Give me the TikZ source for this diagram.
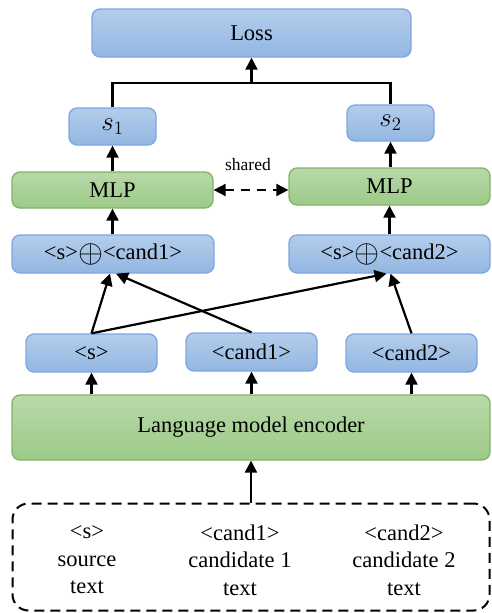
\documentclass[tikz,border=0pt]{standalone}
\usepackage{fontspec}
\usepackage{graphicx}
\setmainfont{Liberation Serif}
\usetikzlibrary{arrows.meta}
\definecolor{btop}{HTML}{B3CDEB}
\definecolor{bbot}{HTML}{93B7E2}
\definecolor{bline}{HTML}{7EA6E0}
\definecolor{gtop}{HTML}{B8D9A9}
\definecolor{gbot}{HTML}{9CCA87}
\definecolor{gline}{HTML}{82B366}
\newcommand{\bigop}{\raisebox{-3pt}{\scalebox{1.55}{$\oplus$}}}
\newcommand{\scoreof}[1]{\scalebox{1.3}{$s_{#1}$}}
\tikzset{
  bluebox/.style={rectangle, rounded corners=8pt, top color=btop, bottom color=bbot, draw=bline, line width=1.3pt, inner sep=0pt, font=\fontsize{22.5}{26}\selectfont},
  greenbox/.style={rectangle, rounded corners=8pt, top color=gtop, bottom color=gbot, draw=gline, line width=1.3pt, inner sep=0pt, font=\fontsize{22.5}{26}\selectfont},
  conn/.style={line width=2.2pt, -{Triangle[length=12pt,width=12pt]}},
  plain/.style={line width=2.2pt},
  bottext/.style={align=center, font=\fontsize{22.5}{27.5}\selectfont, inner sep=0pt}
}
\begin{document}
\begin{tikzpicture}[x=1pt,y=-1pt]
\useasboundingbox (0,0) rectangle (491,613);
% boxes
\node[bluebox, minimum width=319pt, minimum height=48pt] (loss) at (251.5,33) {Loss};
\node[bluebox, minimum width=87pt, minimum height=37pt] (s1) at (112.5,126.5) {\scoreof{1}};
\node[bluebox, minimum width=87pt, minimum height=36pt] (s2) at (390.5,123) {\scoreof{2}};
\node[greenbox, minimum width=201pt, minimum height=36pt] (mlp1) at (112.5,190) {MLP};
\node[greenbox, minimum width=201pt, minimum height=37pt] (mlp2) at (389.5,186.5) {MLP};
\node[bluebox, minimum width=202pt, minimum height=38pt] (c1) at (113,254) {<s>\bigop<cand1>};
\node[bluebox, minimum width=201pt, minimum height=38pt] (c2) at (389.5,254) {<s>\bigop<cand2>};
\node[bluebox, minimum width=131pt, minimum height=38pt] (es) at (91.5,353) {<s>};
\node[bluebox, minimum width=131pt, minimum height=38pt] (ec1) at (251.5,352) {<cand1>};
\node[bluebox, minimum width=131pt, minimum height=38pt] (ec2) at (411.5,353) {<cand2>};
\node[greenbox, minimum width=478pt, minimum height=65pt] (enc) at (251,427.5) {Language model encoder};
\node[rectangle, rounded corners=16pt, draw, line width=2pt, dash pattern=on 10pt off 6pt, minimum width=477pt, minimum height=107pt, inner sep=0pt] (inp) at (251,557) {};
\node[bottext] (t1) at (87,560) {<s>\\source\\text};
\node[bottext] (t2) at (240,560) {<cand1>\\candidate 1\\text};
\node[bottext] (t3) at (404,560) {<cand2>\\candidate 2\\text};
\node[font=\fontsize{17.5}{20}\selectfont, inner sep=0pt] (shl) at (248,165) {shared};
% connectors
\coordinate (j) at (251.5,83);
\draw[plain] (s1.north) |- (j) -| (s2.north);
\draw[conn] (j) -- (loss.south);
\draw[conn] (mlp1.north -| s1.south) -- (s1.south);
\draw[conn] (mlp2.north -| s2.south) -- (s2.south);
\draw[conn] (c1.north -| mlp1.south) -- (mlp1.south);
\draw[conn] (c2.north -| mlp2.south) -- (mlp2.south);
\draw[line width=2pt, dash pattern=on 9pt off 7pt, {Triangle[length=12pt,width=12pt]}-{Triangle[length=12pt,width=12pt]}] (mlp1.east) -- (mlp1.east -| mlp2.west);
\draw[conn] (es.north) -- ([xshift=-3pt]c1.south);
\draw[conn] (ec1.north) -- ([xshift=3pt]c1.south);
\draw[conn] (es.north) -- ([xshift=-3pt]c2.south);
\draw[conn] (ec2.north) -- ([xshift=1pt]c2.south);
\draw[conn] (enc.north -| es.south) -- (es.south);
\draw[conn] (enc.north -| ec1.south) -- (ec1.south);
\draw[conn] (enc.north -| ec2.south) -- (ec2.south);
\draw[conn] (inp.north) -- (enc.south);
\end{tikzpicture}
\end{document}
